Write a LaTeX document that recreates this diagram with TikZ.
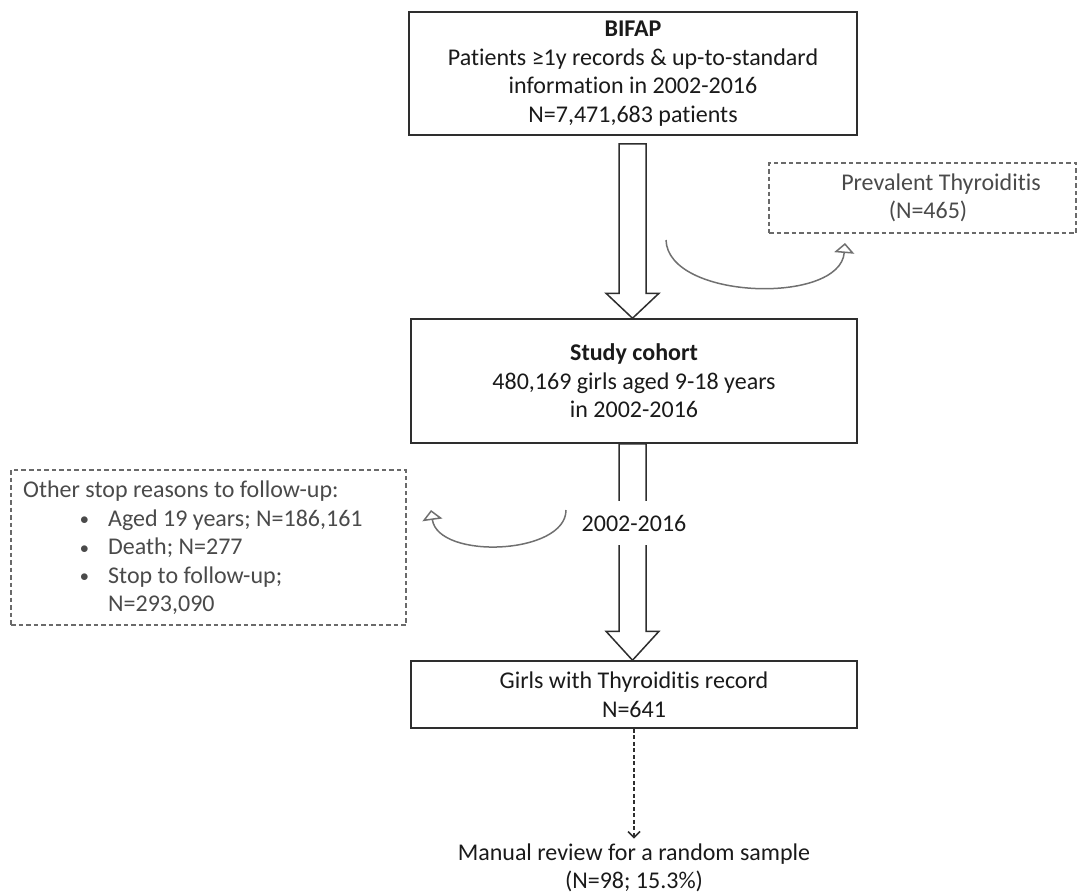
\documentclass[tikz,border=0pt]{standalone}
\usepackage{fontspec}
\setmainfont[Ligatures=NoCommon]{Carlito}
\usetikzlibrary{arrows.meta,calc}
\definecolor{boxc}{HTML}{2E2E2E}
\definecolor{txt}{HTML}{1A1A1A}
\definecolor{dashc}{HTML}{6A6A6A}
\definecolor{soft}{HTML}{4A4A4A}
\definecolor{curvec}{HTML}{707070}
\newcommand{\smallbul}{\makebox[28pt][l]{\raisebox{1.5pt}{\fontsize{17pt}{17pt}\selectfont$\bullet$}}}
\begin{document}
\begin{tikzpicture}[x=1pt,y=-1pt,
  every node/.style={font=\fontsize{24pt}{28.5pt}\selectfont},
  box/.style={draw=boxc, line width=1.5pt, fill=white, text=txt, align=center, inner sep=0pt},
  dbox/.style={draw=dashc, line width=1.2pt, dash pattern=on 4.5pt off 3pt, text=soft, inner sep=0pt},
  blockarrow/.style={draw=boxc, line width=1.5pt, fill=white, line join=miter},
  curvearrow/.style={draw=curvec, line width=1.5pt, -{Triangle[open,length=10pt,width=20pt,fill=white]}},
  dasharrow/.style={draw=boxc, line width=1.5pt, dash pattern=on 4pt off 2.5pt, -{Straight Barb[length=6pt,width=12pt,line width=1.5pt]}}
]
\useasboundingbox (0,0) rectangle (1078,894);

% main boxes
\node[box, minimum width=448pt, minimum height=123pt] (bifap) at (633,73.5)
  {\textbf{BIFAP}\\Patients ≥1y records \& up-to-standard\\information in 2002-2016\\N=7,471,683 patients};
\node[box, minimum width=446pt, minimum height=124pt] (cohort) at (634,381)
  {\textbf{Study cohort}\\480,169 girls aged 9-18 years\\in 2002-2016};
\node[box, minimum width=446pt, minimum height=67pt] (girls) at (634,694.5)
  {Girls with Thyroiditis record\\N=641};
\node[text=txt, align=center, inner sep=0pt] (review) at (634,868)
  {Manual review for a random sample\\(N=98; 15.3\%)};

% side boxes
\node[dbox, minimum width=307pt, minimum height=70pt, align=center] (prev) at (922.5,198)
  {\hspace*{37pt}Prevalent Thyroiditis\\\hspace*{11pt}(N=465)};
\node[dbox, minimum width=395pt, minimum height=155pt] (other) at (208.5,547.5) {};
\node[text=soft, anchor=west, align=left, inner sep=0pt] (othertxt) at (23,548)
  {Other stop reasons to follow-up:\\
   \hspace*{57pt}\smallbul Aged 19 years; N=186,161\\
   \hspace*{57pt}\smallbul Death; N=277\\
   \hspace*{57pt}\smallbul Stop to follow-up;\\
   \hspace*{85pt}N=293,090};

% block arrows
\coordinate (a1top) at ($(bifap.south)+(-0.5,8)$);
\coordinate (a1tip) at ($(cohort.north)+(-1.5,0)$);
\draw[blockarrow] let \p1=(a1top), \p2=(a1tip) in
  (\x1-13.5pt,\y1) -- (\x1+13.5pt,\y1) -- (\x1+13.5pt,\y2+25pt) -- (\x1+26.5pt,\y2+25pt)
  -- (\x2,\y2) -- (\x1-26.5pt,\y2+25pt) -- (\x1-13.5pt,\y2+25pt) -- cycle;

\coordinate (a2top) at ($(cohort.south)+(-1.5,0)$);
\coordinate (a2tip) at ($(girls.north)+(-1.5,0)$);
\draw[blockarrow] let \p1=(a2top), \p2=(a2tip) in
  (\x1-13.5pt,\y1) -- (\x1+13.5pt,\y1) -- (\x1+13.5pt,\y2+29pt) -- (\x1+26.5pt,\y2+29pt)
  -- (\x2,\y2) -- (\x1-26.5pt,\y2+29pt) -- (\x1-13.5pt,\y2+29pt) -- cycle;
\node[fill=white, text=txt, inner xsep=2pt, minimum height=44pt] (period) at (634,523) {2002-2016};

% curved side arrows
\coordinate (c1s) at (666,240);
\coordinate (c1e) at (845,243);
\draw[curvearrow] (c1s) .. controls (668,300) and (840,305) .. (c1e);
\coordinate (c2s) at (566,510);
\coordinate (c2e) at (431,510);
\draw[curvearrow] (c2s) .. controls (566,555) and (438,560) .. (c2e);

% dashed arrow to review
\draw[dasharrow] (girls.south) -- ($(review.north)+(0,-5)$);
\end{tikzpicture}
\end{document}
